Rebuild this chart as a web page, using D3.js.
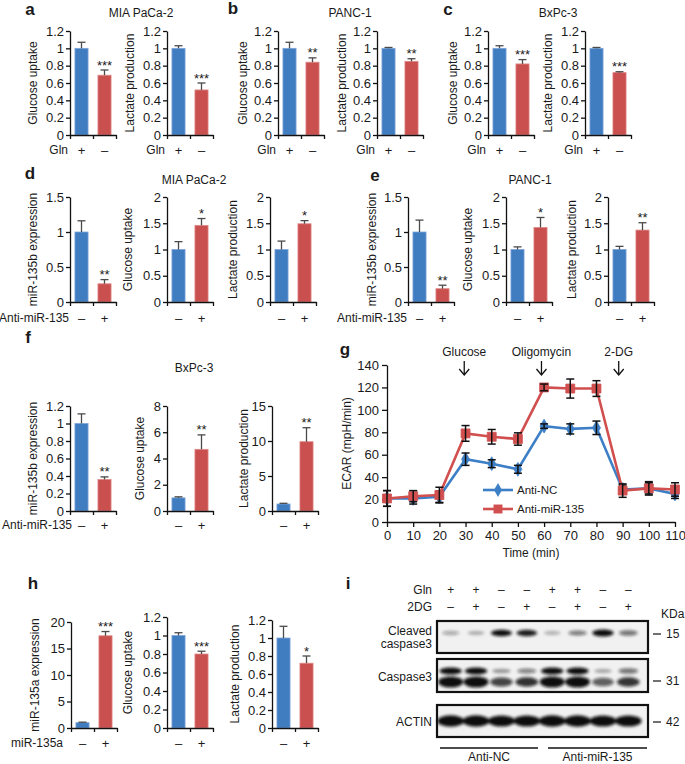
<!DOCTYPE html>
<html><head><meta charset="utf-8">
<script src="https://cdn.jsdelivr.net/npm/d3@7"></script>
<style>
body{margin:0;background:#fff}
svg{display:block}
</style>
</head><body>
<svg id="fig" width="685" height="764"></svg>
<script>
// ---------------- DATA ----------------
const glnCats = ["+", "–"];
const antiCats = ["–", "+"];

const aGlucose = [1.00, 0.69], aGlucoseErr = [0.07, 0.06];
const aLactate = [1.00, 0.52], aLactateErr = [0.03, 0.08];
const bGlucose = [1.00, 0.84], bGlucoseErr = [0.07, 0.05];
const bLactate = [1.00, 0.85], bLactateErr = [0.01, 0.03];
const cGlucose = [1.00, 0.82], cGlucoseErr = [0.03, 0.05];
const cLactate = [1.00, 0.72], cLactateErr = [0.01, 0.01];

const dMir = [1.00, 0.26], dMirErr = [0.16, 0.06];
const dGlucose = [1.00, 1.46], dGlucoseErr = [0.15, 0.13];
const dLactate = [1.00, 1.49], dLactateErr = [0.16, 0.06];
const eMir = [1.00, 0.19], eMirErr = [0.17, 0.05];
const eGlucose = [1.00, 1.42], eGlucoseErr = [0.05, 0.19];
const eLactate = [1.00, 1.37], eLactateErr = [0.06, 0.14];

const fMir = [1.00, 0.36], fMirErr = [0.11, 0.03];
const fGlucose = [1.00, 4.7], fGlucoseErr = [0.08, 1.1];
const fLactate = [1.00, 9.9], fLactateErr = [0.1, 2.0];

const hMir = [1.0, 17.4], hMirErr = [0.1, 0.8];
const hGlucose = [1.00, 0.80], hGlucoseErr = [0.03, 0.03];
const hLactate = [1.00, 0.72], hLactateErr = [0.13, 0.08];

const starsA = ["***", "***"], starsB = ["**", "**"], starsC = ["***", "***"];
const starsD = ["**", "*", "*"], starsE = ["**", "*", "**"], starsF = ["**", "**", "**"];
const starsH = ["***", "***", "*"];

// ECAR time course (panel g)
const gTime = [0, 10, 20, 30, 40, 50, 60, 70, 80, 90, 100, 110];
const gAntiNC = [21, 21, 22.5, 56, 52, 47, 85.5, 83, 84, 29, 30, 25];
const gAntiNCErr = [7, 5, 5, 5.5, 3.5, 3.5, 2, 4.5, 6, 4, 6, 4];
const gAntiMiR = [21, 23, 24, 79, 76, 74, 120, 119, 119, 28, 30, 29];
const gAntiMiRErr = [7, 5, 7, 7, 6.5, 5.5, 3, 8.5, 7, 6, 5, 6];
const gTicksY = [0, 20, 40, 60, 80, 100, 120, 140];
const gTicksX = [0, 10, 20, 30, 40, 50, 60, 70, 80, 90, 100, 110];
const gEvents = ["Glucose", "Oligomycin", "2-DG"];
const gEventTimes = [29.5, 59, 88.5];
const gSeriesNames = ["Anti-NC", "Anti-miR-135"];

// Western blot (panel i)
const laneGln = ["+", "+", "–", "–", "+", "+", "–", "–"];
const lane2DG = ["–", "+", "–", "+", "–", "+", "–", "+"];
const cleavedBand = [0.18, 0.12, 0.85, 0.78, 0.10, 0.38, 0.92, 0.42];
const casp3Upper = [0.95, 0.95, 0.22, 0.35, 0.95, 0.92, 0.15, 0.42];
const casp3Lower = [1.0, 1.0, 0.62, 0.70, 1.0, 1.0, 0.50, 0.68];
const actinBand = [0.95, 0.95, 0.92, 0.92, 0.95, 0.95, 0.90, 0.92];
const blotNames = [["Cleaved", "caspase3"], ["Caspase3"], ["ACTIN"]];
const kdaMarks = ["15", "31", "42"];
const groupNames = ["Anti-NC", "Anti-miR-135"];

// ---------------- DRAWING ----------------
const FONT = '"Liberation Sans", Arial, Helvetica, sans-serif';
const BLUE = "#3f7cc0", RED = "#c9504e";
const BLUE_EDGE = "#7ea6d8", RED_EDGE = "#e08a88";
const INK = "#1a1a1a";
const svg = d3.select("#fig").attr("font-family", FONT);

const fmt = d => String(Math.round(d * 10) / 10);

function styleAxis(sel, fs) {
  sel.attr("font-family", FONT).attr("font-size", fs);
  sel.select(".domain").attr("stroke", "#111").attr("stroke-width", 1.3);
  sel.selectAll(".tick line").attr("stroke", "#111").attr("stroke-width", 1.3);
  sel.selectAll(".tick text").attr("fill", INK);
}

function text(x, y, s, opts = {}) {
  const t = svg.append("text").attr("x", x).attr("y", y).text(s)
    .attr("font-size", opts.size || 12).attr("fill", INK)
    .attr("text-anchor", opts.anchor || "middle")
    .attr("dominant-baseline", "central");
  if (opts.bold) t.attr("font-weight", "bold");
  return t;
}

function barChart(c) {
  const w = c.w || 46;
  const g = svg.append("g");
  const y = d3.scaleLinear().domain([0, c.max]).range([c.bot, c.top]);
  const x = d3.scaleBand().domain(d3.range(c.vals.length)).range([c.x0, c.x0 + w])
    .paddingInner(0.43).paddingOuter(0.215);
  const cols = [BLUE, RED], edges = [BLUE_EDGE, RED_EDGE];
  g.selectAll("rect").data(c.vals).join("rect")
    .attr("x", (d, i) => x(i)).attr("y", d => y(d))
    .attr("width", x.bandwidth()).attr("height", d => c.bot - y(d))
    .attr("fill", (d, i) => cols[i]).attr("stroke", (d, i) => edges[i]).attr("stroke-width", 0.8);
  // error bars (upper)
  const eg = g.append("g").attr("stroke", "#4a4a4a").attr("stroke-width", 1.3);
  c.vals.forEach((v, i) => {
    const cx = x(i) + x.bandwidth() / 2;
    const yt = y(v + c.errs[i]);
    eg.append("line").attr("x1", cx).attr("x2", cx).attr("y1", y(v)).attr("y2", yt);
    eg.append("line").attr("x1", cx - 4).attr("x2", cx + 4).attr("y1", yt).attr("y2", yt);
  });
  // star
  if (c.star) {
    const cx = x(1) + x.bandwidth() / 2;
    svg.append("text").attr("x", cx).attr("y", y(c.vals[1] + c.errs[1]) - 0.5)
      .attr("text-anchor", "middle").attr("font-size", 13).attr("fill", INK).text(c.star);
  }
  // y axis
  const ticks = d3.range(0, c.max + 1e-9, c.step);
  g.append("g").attr("transform", `translate(${c.x0},0)`)
    .call(d3.axisLeft(y).tickValues(ticks).tickSize(4).tickSizeOuter(0).tickPadding(2).tickFormat(fmt))
    .call(s => styleAxis(s, 13));
  // x axis
  const xl = d3.scaleLinear().domain([0, c.vals.length]).range([c.x0, c.x0 + w]);
  g.append("g").attr("transform", `translate(0,${c.bot})`)
    .call(d3.axisBottom(xl).tickValues(d3.range(c.vals.length + 1)).tickSize(4).tickSizeOuter(0).tickFormat(""))
    .call(s => styleAxis(s, 13));
  // y label
  svg.append("text").attr("transform", `translate(${c.ylx},${(c.top + c.bot) / 2}) rotate(-90)`)
    .attr("text-anchor", "middle").attr("dominant-baseline", "central")
    .attr("font-size", 12).attr("fill", INK).text(c.ylabel);
  // categories
  c.cats.forEach((s, i) => text(x(i) + x.bandwidth() / 2, c.catY, s, { size: 13 }));
  if (c.catTitle) text(c.catTitleX, c.catY, c.catTitle, { size: 12, anchor: "end" });
}

// Row a/b/c
const rowA = [
  [70, 33, aGlucose, aGlucoseErr, "Glucose uptake", starsA[0]],
  [167, 130, aLactate, aLactateErr, "Lactate production", starsA[1]],
  [278, 243, bGlucose, bGlucoseErr, "Glucose uptake", starsB[0]],
  [377, 342, bLactate, bLactateErr, "Lactate production", starsB[1]],
  [488, 453, cGlucose, cGlucoseErr, "Glucose uptake", starsC[0]],
  [585, 548, cLactate, cLactateErr, "Lactate production", starsC[1]],
];
rowA.forEach(r => barChart({ x0: r[0], ylx: r[1], vals: r[2], errs: r[3], ylabel: r[4], star: r[5],
  top: 31, bot: 135, max: 1.2, step: 0.2, cats: glnCats, catY: 150, catTitle: "Gln", catTitleX: r[0] - 2 }));

// Row d/e
const rowD = [
  [70, 33, dMir, dMirErr, "miR-135b expression", starsD[0], 1.5, true],
  [167, 128, dGlucose, dGlucoseErr, "Glucose uptake", starsD[1], 2, false],
  [270, 233, dLactate, dLactateErr, "Lactate production", starsD[2], 2, false],
  [408, 372, eMir, eMirErr, "miR-135b expression", starsE[0], 1.5, true],
  [506, 468, eGlucose, eGlucoseErr, "Glucose uptake", starsE[1], 2, false],
  [608, 572, eLactate, eLactateErr, "Lactate production", starsE[2], 2, false],
];
rowD.forEach(r => barChart({ x0: r[0], ylx: r[1], vals: r[2], errs: r[3], ylabel: r[4], star: r[5],
  top: 197, bot: 302, max: r[6], step: 0.5, cats: antiCats, catY: 318,
  catTitle: r[7] ? "Anti-miR-135" : null, catTitleX: r[0] - 1 }));

// Row f
const rowF = [
  [70, 33, fMir, fMirErr, "miR-135b expression", starsF[0], 1.2, 0.2, true],
  [167, 140, fGlucose, fGlucoseErr, "Glucose uptake", starsF[1], 8, 2, false],
  [272, 244, fLactate, fLactateErr, "Lactate production", starsF[2], 15, 5, false],
];
rowF.forEach(r => barChart({ x0: r[0], ylx: r[1], vals: r[2], errs: r[3], ylabel: r[4], star: r[5],
  top: 406, bot: 511, max: r[6], step: r[7], cats: antiCats, catY: 525,
  catTitle: r[8] ? "Anti-miR-135" : null, catTitleX: r[0] + 2 }));

// Row h
const rowH = [
  [71, 35, hMir, hMirErr, "miR-135a expression", starsH[0], 20, 5, 622, true],
  [167, 128, hGlucose, hGlucoseErr, "Glucose uptake", starsH[1], 1.2, 0.2, 617, false],
  [272, 235, hLactate, hLactateErr, "Lactate production", starsH[2], 1.2, 0.2, 620, false],
];
rowH.forEach(r => barChart({ x0: r[0], ylx: r[1], vals: r[2], errs: r[3], ylabel: r[4], star: r[5],
  top: r[8], bot: 728, max: r[6], step: r[7], cats: antiCats, catY: 743,
  catTitle: r[9] ? "miR-135a" : null, catTitleX: 63 }));

// Titles and panel letters
text(141, 13, "MIA PaCa-2");
text(350, 13, "PANC-1");
text(558, 13, "BxPc-3");
text(194, 180, "MIA PaCa-2");
text(530, 180, "PANC-1");
text(194, 368, "BxPc-3");
[["a", 30, 9], ["b", 233, 8], ["c", 448, 9], ["d", 30, 173], ["e", 375, 175],
 ["f", 28, 337], ["g", 345, 349], ["h", 33, 583], ["i", 348, 583]]
  .forEach(l => text(l[1], l[2], l[0], { size: 17, bold: true }));

// ---------------- Panel g ----------------
{
  const x = d3.scaleLinear().domain([0, 110]).range([387, 675]);
  const y = d3.scaleLinear().domain([0, 140]).range([522, 365]);
  svg.append("g").attr("transform", "translate(387,0)")
    .call(d3.axisLeft(y).tickValues(gTicksY).tickSize(5).tickSizeOuter(0).tickPadding(3))
    .call(s => styleAxis(s, 13));
  svg.append("g").attr("transform", "translate(0,522)")
    .call(d3.axisBottom(x).tickValues(gTicksX).tickSize(5).tickSizeOuter(0).tickPadding(4))
    .call(s => styleAxis(s, 13));
  svg.append("text").attr("transform", `translate(347,${(365 + 522) / 2}) rotate(-90)`)
    .attr("text-anchor", "middle").attr("dominant-baseline", "central")
    .attr("font-size", 12).attr("fill", INK).text("ECAR (mpH/min)");
  text(531, 553, "Time (min)");

  const series = [
    { vals: gAntiNC, errs: gAntiNCErr, color: "#3d7fc6", sym: d3.symbolDiamond, size: 55 },
    { vals: gAntiMiR, errs: gAntiMiRErr, color: "#d14f4f", sym: d3.symbolSquare, size: 80 },
  ];
  const line = d3.line().x((d, i) => x(gTime[i])).y(d => y(d));
  series.forEach(s => {
    svg.append("path").datum(s.vals).attr("d", line).attr("fill", "none")
      .attr("stroke", s.color).attr("stroke-width", 2.6);
    svg.append("g").selectAll("path").data(s.vals).join("path")
      .attr("d", d3.symbol(s.sym, s.size))
      .attr("transform", (d, i) => `translate(${x(gTime[i])},${y(d)})`)
      .attr("fill", s.color).attr("stroke", s.color).attr("stroke-width", 0.8);
    const eg = svg.append("g").attr("stroke", "#111").attr("stroke-width", 1.5);
    s.vals.forEach((v, i) => {
      const cx = x(gTime[i]), y1 = y(v + s.errs[i]), y2 = y(v - s.errs[i]);
      eg.append("line").attr("x1", cx).attr("x2", cx).attr("y1", y1).attr("y2", y2);
      eg.append("line").attr("x1", cx - 4).attr("x2", cx + 4).attr("y1", y1).attr("y2", y1);
      eg.append("line").attr("x1", cx - 4).attr("x2", cx + 4).attr("y1", y2).attr("y2", y2);
    });
  });
  // legend
  series.forEach((s, k) => {
    const ly = 490 + k * 19;
    svg.append("line").attr("x1", 483).attr("x2", 513).attr("y1", ly).attr("y2", ly)
      .attr("stroke", s.color).attr("stroke-width", 2.6);
    svg.append("path").attr("d", d3.symbol(s.sym, s.size)).attr("transform", `translate(498,${ly})`)
      .attr("fill", s.color);
    text(517, ly, gSeriesNames[k], { size: 11.5, anchor: "start" });
  });
  // event arrows
  gEvents.forEach((name, k) => {
    const ax = x(gEventTimes[k]);
    text(ax, 352, name);
    const ag = svg.append("g").attr("stroke", "#111").attr("stroke-width", 1.3).attr("fill", "none");
    ag.append("line").attr("x1", ax).attr("x2", ax).attr("y1", 361).attr("y2", 375);
    ag.append("path").attr("d", `M${ax - 5},369 L${ax},375 L${ax + 5},369`);
  });
}

// ---------------- Panel i (western blot) ----------------
{
  const defs = svg.append("defs");
  defs.append("filter").attr("id", "blur").attr("x", "-50%").attr("y", "-100%")
    .attr("width", "200%").attr("height", "300%")
    .append("feGaussianBlur").attr("stdDeviation", 1.4);
  const lx = d3.scaleBand().domain(d3.range(8)).range([438, 641]);
  const cx = i => lx(i) + lx.bandwidth() / 2;
  text(432, 590, "Gln", { anchor: "end" });
  text(432, 607, "2DG", { anchor: "end" });
  laneGln.forEach((s, i) => text(cx(i), 590, s, { size: 12 }));
  lane2DG.forEach((s, i) => text(cx(i), 607, s, { size: 12 }));
  text(661, 614, "KDa", { anchor: "start" });

  const boxes = [[621, 653], [659, 692], [705, 737]];
  const markY = [634, 681, 722];
  boxes.forEach((b, k) => {
    svg.append("rect").attr("x", 437).attr("y", b[0]).attr("width", 211).attr("height", b[1] - b[0])
      .attr("fill", "#f1f1f1");
  });
  const bandG = svg.append("g").attr("filter", "url(#blur)").attr("fill", "#111");
  const drawBands = (arr, yc, rx, ryBase) => arr.forEach((v, i) => {
    bandG.append("ellipse").attr("cx", cx(i)).attr("cy", yc)
      .attr("rx", rx * (0.75 + 0.25 * v)).attr("ry", ryBase * (0.55 + 0.45 * v))
      .attr("opacity", Math.min(1, 0.15 + v));
  });
  drawBands(cleavedBand, 633, 11, 3.6);
  drawBands(casp3Upper, 671, 11.5, 3.6);
  drawBands(casp3Lower, 682, 12.5, 5.5);
  drawBands(actinBand, 721, 13.5, 5.8);
  boxes.forEach(b => {
    svg.append("rect").attr("x", 437).attr("y", b[0]).attr("width", 211).attr("height", b[1] - b[0])
      .attr("fill", "none").attr("stroke", "#111").attr("stroke-width", 2.2);
  });
  // labels
  text(432, 631, blotNames[0][0], { anchor: "end" });
  text(432, 644, blotNames[0][1], { anchor: "end" });
  text(432, 677, blotNames[1][0], { anchor: "end" });
  text(432, 722, blotNames[2][0], { anchor: "end" });
  kdaMarks.forEach((m, k) => {
    svg.append("line").attr("x1", 653).attr("x2", 661).attr("y1", markY[k]).attr("y2", markY[k])
      .attr("stroke", "#111").attr("stroke-width", 1.2);
    text(666, markY[k], m, { anchor: "start" });
  });
  // group underlines
  const grp = [[440, 538], [548, 647]];
  grp.forEach((gx, k) => {
    svg.append("line").attr("x1", gx[0]).attr("x2", gx[1]).attr("y1", 748).attr("y2", 748)
      .attr("stroke", "#111").attr("stroke-width", 1.3);
    text((gx[0] + gx[1]) / 2, 756.5, groupNames[k]);
  });
}
</script>
</body></html>
